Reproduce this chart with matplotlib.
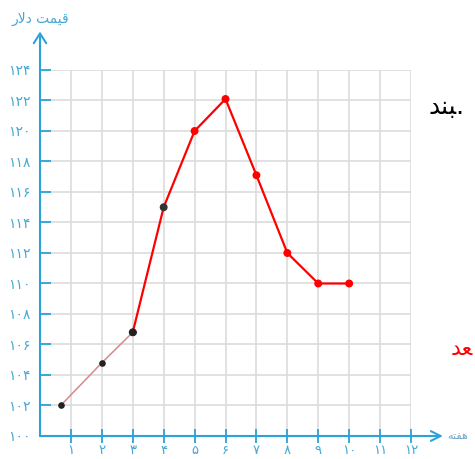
import matplotlib
matplotlib.use("Agg")
import matplotlib.pyplot as plt

# ---- data ----
weeks_early = [0.67, 2, 3]
price_early = [102, 104.8, 106.8]
weeks_late = [3, 4, 5, 6, 7, 8, 9, 10]
price_late = [106.8, 115, 120, 122.1, 117.1, 112, 110, 110]
late_dot_colors = ["#222222", "#333333", "red", "red", "red", "red", "red", "red"]

x_ticks = list(range(1, 13))
y_ticks = list(range(100, 125, 2))
fa_digits = str.maketrans("0123456789", "۰۱۲۳۴۵۶۷۸۹")
x_tick_labels = [str(v).translate(fa_digits) for v in x_ticks]
y_tick_labels = [str(v).translate(fa_digits) for v in y_ticks]

y_title = "\uFEAD\uFEFB\uFEA9 \uFE96\uFEE4\uFEF4\uFED7"   # قیمت دلار (visual order)
x_title = "\uFEEA\uFE98\uFED4\uFEEB"                      # هفته (visual order)
side_text_1 = "\uFEAA\uFEE8\uFE92."                       # بند. (visual order)
side_text_2 = "\uFEAA\uFECC"                              # عد (visual order)

AXIS = "#2aa3d8"
LABEL = "#45a8d8"
GRID = "#dcdcdc"

fig = plt.figure(figsize=(4.75, 4.59), dpi=100)
ax = fig.add_axes([40 / 475, 23 / 459, 371 / 475, 366 / 459])
ax.set_xlim(0, 12)
ax.set_ylim(100, 124)

for s in ax.spines.values():
    s.set_visible(False)

ax.set_xticks(x_ticks)
ax.set_xticklabels(x_tick_labels)
ax.set_yticks(y_ticks)
ax.set_yticklabels(y_tick_labels)
ax.tick_params(axis="x", direction="inout", length=10, width=1.3, color=AXIS,
               labelcolor=LABEL, labelsize=9.5, pad=1)
ax.tick_params(axis="y", direction="in", length=8, width=1.3, color=AXIS,
               labelcolor=LABEL, labelsize=10, pad=7)

ax.grid(True, color=GRID, linewidth=1.2)
ax.set_axisbelow(True)

# axes lines with open arrowheads
ax.annotate("", xy=(0, 1.105), xytext=(0, 0), xycoords="axes fraction",
            textcoords="axes fraction",
            arrowprops=dict(arrowstyle="->,head_length=0.7,head_width=0.45",
                            color=AXIS, lw=1.5, shrinkA=0, shrinkB=0))
ax.annotate("", xy=(1.086, 0), xytext=(0, 0), xycoords="axes fraction",
            textcoords="axes fraction",
            arrowprops=dict(arrowstyle="->,head_length=0.7,head_width=0.35",
                            color=AXIS, lw=1.5, shrinkA=0, shrinkB=0))

# data
ax.plot(weeks_early, price_early, color="#d48a8a", lw=1.1, zorder=3, clip_on=False)
ax.scatter(weeks_early, price_early, s=14, color="#222222", zorder=4, clip_on=False)
ax.plot(weeks_late, price_late, color="red", lw=1.6, zorder=3)
ax.scatter(weeks_late, price_late, s=22, color=late_dot_colors, zorder=4)

# titles
fig.text(40 / 475, 1 - 19 / 459, y_title, ha="center", va="center",
         color=LABEL, fontsize=10)
fig.text(447 / 475, 1 - 436 / 459, x_title, ha="left", va="center",
         color="#6fa9c8", fontsize=8)

fig.text(429 / 475, 1 - 107 / 459, side_text_1, ha="left", va="center",
         color="black", fontsize=18, family="DejaVu Sans")
fig.text(451 / 475, 1 - 349 / 459, side_text_2, ha="left", va="center",
         color="red", fontsize=16, family="DejaVu Sans")

fig.savefig("out.png", dpi=100)
